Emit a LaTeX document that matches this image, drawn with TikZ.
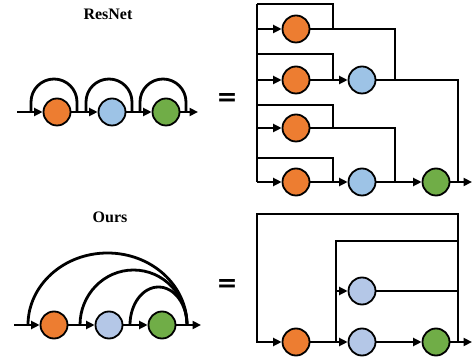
\documentclass[tikz,border=0pt]{standalone}
\usepackage{fontspec}
\setmainfont{Liberation Serif}
\newfontfamily\eqfont{DejaVu Sans}
\usetikzlibrary{arrows.meta}

\definecolor{orng}{HTML}{ED7D31}
\definecolor{lblue}{HTML}{9DC3E6}
\definecolor{pblue}{HTML}{B4C7E7}
\definecolor{grn}{HTML}{70AD47}

\begin{document}
\begin{tikzpicture}[x=1pt, y=1pt, >={Triangle[length=8.5pt,width=8pt]}, line width=2.8pt,
    unit/.style={circle, draw, line width=1.8pt, minimum size=27pt, inner sep=0pt},
    title/.style={font=\fontsize{16}{18}\selectfont\bfseries},
    equal/.style={font=\eqfont\bfseries, inner sep=0pt}]
    \useasboundingbox (0,0) rectangle (473,358);

    %resnet chain with skip arcs
    \node[title] (tres) at (108,344) {ResNet};
    \node[unit, fill=orng]  (a1) at (57,246) {};
    \node[unit, fill=lblue] (a2) at (112,246) {};
    \node[unit, fill=grn]   (a3) at (166,246) {};
    \coordinate (ain)  at (17,246);
    \coordinate (aout) at (198,246);
    \draw[->] (ain) -- (a1);
    \draw[->] (a1) -- (a2);
    \draw[->] (a2) -- (a3);
    \draw[->] (a3) -- (aout);
    \foreach \n in {a1,a2,a3}
        \draw ([xshift=-26pt]\n.center) -- ++(0,10) arc (180:0:23) -- ++(0,-10);
    \node[equal] (eq1) at (227,258) {\resizebox{21pt}{12pt}{=}};

    %unrolled resnet
    \node[unit, fill=orng]  (o1) at (296,329) {};
    \node[unit, fill=orng]  (o2) at (296,278) {};
    \node[unit, fill=orng]  (o3) at (296,230) {};
    \node[unit, fill=orng]  (o4) at (296,176) {};
    \node[unit, fill=lblue] (p1) at (362,278) {};
    \node[unit, fill=lblue] (p2) at (362,176) {};
    \node[unit, fill=grn]   (g1) at (436,176) {};
    \coordinate (rout) at (472,176);
    \draw (257,354) -- (257,176);
    \foreach \o in {o1,o2,o3,o4}
        \draw[->] (257,0 |- \o) -- (\o);
    \draw (257,354) -- (333,354) -- (333,329);
    \draw (257,304) -- (333,304) -- (333,278);
    \draw (257,253) -- (333,253) -- (333,230);
    \draw (257,200) -- (333,200) -- (333,176);
    \draw (o1) -- (395,329) -- (395,278);
    \draw (o3) -- (395,230) -- (395,176);
    \draw (p1) -- (458,278) -- (458,176);
    \draw[->] (o2) -- (p1);
    \draw[->] (o4) -- (p2);
    \draw[->] (p2) -- (g1);
    \draw[->] (g1) -- (rout);

    %our chain with long skips
    \node[title] (tours) at (110,141) {Ours};
    \node[unit, fill=orng]  (b1) at (54,33) {};
    \node[unit, fill=pblue] (b2) at (109,33) {};
    \node[unit, fill=grn]   (b3) at (162,33) {};
    \coordinate (bin)  at (14,33);
    \coordinate (bout) at (201,33);
    \draw[->] (bin) -- (b1);
    \draw[->] (b1) -- (b2);
    \draw[->] (b2) -- (b3);
    \draw[->] (b3) -- (bout);
    \draw (28,33)  arc[start angle=180, end angle=0, x radius=79.5, y radius=72];
    \draw (80,33)  arc[start angle=180, end angle=0, x radius=53.5, y radius=55];
    \draw (130,33) arc[start angle=180, end angle=0, x radius=28.5, y radius=38];
    \node[equal] (eq2) at (227,72) {\resizebox{21pt}{12pt}{=}};

    %unrolled version of ours
    \node[unit, fill=orng]  (c1) at (296,16) {};
    \node[unit, fill=pblue] (c2) at (362,16) {};
    \node[unit, fill=pblue] (c3) at (362,67) {};
    \node[unit, fill=grn]   (c4) at (436,16) {};
    \coordinate (cout) at (472,16);
    \draw[->] (458,16) -- (458,144) -- (257,144) -- (257,16) -- (c1);
    \draw (458,117) -- (336,117) -- (336,16);
    \draw[->] (336,67) -- (c3);
    \draw (c3) -- (458,67);
    \draw[->] (c1) -- (c2);
    \draw[->] (c2) -- (c4);
    \draw[->] (c4) -- (cout);
\end{tikzpicture}
\end{document}
